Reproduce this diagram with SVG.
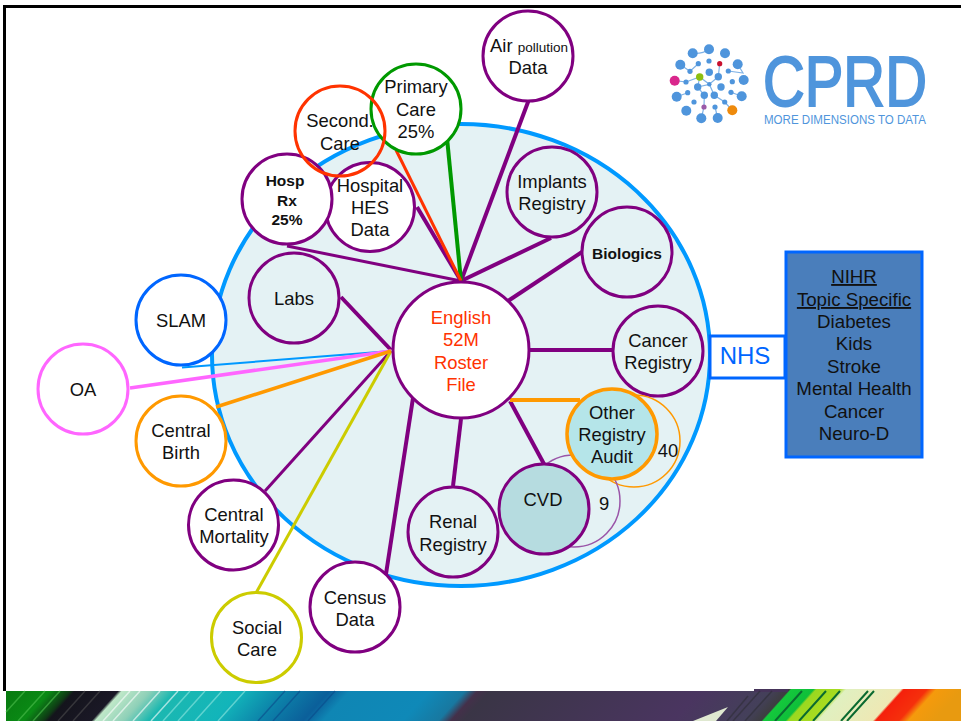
<svg xmlns="http://www.w3.org/2000/svg" width="961" height="721" viewBox="0 0 961 721">
<defs>
<style>
text{font-family:"Liberation Sans",Arial,sans-serif;font-size:18.4px;fill:#111;text-anchor:middle}
.n{fill:#fff;stroke-width:3px}
.tint{fill:#e4f2f4;stroke:#800080;stroke-width:3px}
.p{stroke:#800080}
.l{fill:none;stroke:#800080}
.d{fill:#4f95dc;stroke:none}
.e{stroke:#7fb2e6;stroke-width:1.2;fill:none}
.b{font-weight:bold;font-size:15.5px}
.r{fill:#ff3300}
.box{font-size:18.7px}
</style>
<linearGradient id="band" gradientUnits="userSpaceOnUse" x1="0" x2="961" y1="0" y2="0" gradientTransform="translate(0,691) skewX(-42)">
<stop offset=".006" stop-color="#087a10"/><stop offset=".052" stop-color="#0a8a15"/><stop offset=".073" stop-color="#0f3a15"/><stop offset=".078" stop-color="#14141c"/><stop offset=".123" stop-color="#1a1826"/><stop offset=".127" stop-color="#bfe8c8"/><stop offset=".156" stop-color="#8fd0b8"/><stop offset=".182" stop-color="#1cb8b0"/><stop offset=".25" stop-color="#12b5ba"/><stop offset=".302" stop-color="#0c7fa8"/><stop offset=".343" stop-color="#0b5f9a"/><stop offset=".364" stop-color="#0f86b4"/><stop offset=".447" stop-color="#0f89b8"/><stop offset=".484" stop-color="#1878a0"/><stop offset=".497" stop-color="#44304a"/><stop offset=".51" stop-color="#3a3546"/><stop offset=".728" stop-color="#4a3560"/><stop offset=".801" stop-color="#44405a"/><stop offset=".82" stop-color="#3d3d40"/><stop offset=".822" stop-color="#14c83c"/><stop offset=".845" stop-color="#0fbf3a"/><stop offset=".848" stop-color="#9ad820"/><stop offset=".872" stop-color="#a8dc20"/><stop offset=".879" stop-color="#e0f0c0"/><stop offset=".936" stop-color="#eee8b4"/><stop offset=".939" stop-color="#f5200c"/><stop offset=".963" stop-color="#f5300c"/><stop offset=".973" stop-color="#f59a0c"/><stop offset="1" stop-color="#e89a10"/>
</linearGradient>
</defs>
<rect width="961" height="721" fill="#fff"/>
<g id="frame" fill="#000"><rect x="3" y="5" width="958" height="3"/><rect x="3" y="5" width="3" height="686"/></g>
<g id="band-art">
<rect x="6" y="691" width="955" height="30" fill="url(#band)"/>
<rect x="754" y="689" width="207" height="3" fill="#46345a"/>
<rect x="788" y="689" width="173" height="3" fill="url(#band)"/>
<g fill="none" stroke-width="1.5">
<path stroke="#4fc04f" opacity=".6" d="M25 691L6 712M45 691L18 721M60 691L33 721"/>
<path stroke="#555" opacity=".5" d="M85 691L58 721M100 691L73 721"/>
<path stroke="#fff" opacity=".6" d="M130 691L103 721M140 691L113 721M160 691L133 721M178 691L151 721"/>
<path stroke="#7fe0da" opacity=".7" d="M190 691L163 721M205 691L178 721M222 691L195 721M245 691L218 721"/>
<path stroke="#0a4a8a" opacity=".6" d="M285 691L258 721M300 691L273 721M335 691L308 721"/>
<path stroke="#0a6a30" stroke-width="2" d="M802 691L775 721M826 691L799 721M840 691L813 721M868 691L841 721M874 691L847 721"/>
<path stroke="#2a2a30" opacity=".5" d="M772 691L745 721M760 691L733 721M748 696L727 721"/>
</g>
<path d="M693 721L728 707L716 721z" fill="#dfe8d0"/>
</g>
<ellipse id="data-pool" cx="461" cy="355" rx="249" ry="231" fill="#e4f2f4" stroke="#0099ff" stroke-width="4"/>
<g id="connectors">
<path class="l" stroke-width="4" d="M531 94L461 281"/>
<path class="l" stroke-width="4" d="M551 238L461 281"/>
<path class="l" stroke-width="4" d="M417 207L461 281"/>
<path class="l" stroke-width="3" d="M287 246L461 281"/>
<path d="M447 138L461 281" fill="none" stroke="#009900" stroke-width="4"/>
<path d="M396 150L461 281" fill="none" stroke="#ff3300" stroke-width="3"/>
<path class="l" stroke-width="4" d="M582 252L508 301"/>
<path class="l" stroke-width="4" d="M612 350H529"/>
<path class="l" stroke-width="4" d="M341 297L391 350"/>
<path class="l" stroke-width="3" d="M265 491L391 351"/>
<path d="M256 593L391 351" fill="none" stroke="#cccc00" stroke-width="3"/>
<path class="l" stroke-width="4" d="M386 574L413 398"/>
<path class="l" stroke-width="4" d="M453 486L461 419"/>
<path class="l" stroke-width="4" d="M544 464L510 401"/>
<path d="M510 400H580" fill="none" stroke="#ff9900" stroke-width="4"/>
</g>
<g id="n-air"><circle class="n p" cx="528" cy="56" r="45"/><text x="529" y="52">Air <tspan font-size="13.500">pollution</tspan></text><text x="528" y="74">Data</text></g>
<g id="n-implants"><circle class="tint" cx="552" cy="192" r="45"/><text x="552" y="188">Implants</text><text x="552" y="210">Registry</text></g>
<g id="n-biologics"><circle class="tint" cx="627" cy="252" r="45"/><text class="b" x="627" y="259">Biologics</text></g>
<g id="n-cancer"><circle class="tint" cx="658" cy="351" r="45"/><text x="658" y="347">Cancer</text><text x="658" y="369">Registry</text></g>
<g id="n-other-ring"><circle cx="634" cy="441" r="46" fill="none" stroke="#ff9900" stroke-width="1.5"/></g>
<g id="n-cvd-ring"><circle cx="574" cy="501" r="46" fill="none" stroke="#9a55a8" stroke-width="1.5"/></g>
<g id="n-other"><circle cx="612" cy="434" r="45" fill="#b5e5e9" stroke="#ff9900" stroke-width="3.5"/><text x="612" y="419">Other</text><text x="612" y="441">Registry</text><text x="612" y="463">Audit</text><text x="668" y="457">40</text></g>
<g id="n-cvd"><circle cx="544" cy="509" r="45" fill="#b6dce0" stroke="#800080" stroke-width="3"/><text x="543" y="506">CVD</text><text x="604" y="510">9</text></g>
<g id="n-renal"><circle class="tint" cx="453" cy="532" r="45"/><text x="453" y="528">Renal</text><text x="453" y="551">Registry</text></g>
<g id="n-census"><circle class="n p" cx="355" cy="607" r="45"/><text x="355" y="604">Census</text><text x="355" y="626">Data</text></g>
<g id="n-social"><circle class="n" stroke="#cccc00" cx="256.500" cy="637.500" r="45"/><text x="257" y="634">Social</text><text x="257" y="656">Care</text></g>
<g id="n-mortality"><circle class="n p" cx="233.500" cy="525" r="45"/><text x="234" y="521">Central</text><text x="234" y="543">Mortality</text></g>
<g id="n-birth"><circle class="n" stroke="#ff9900" cx="181" cy="441" r="45"/><text x="181" y="437">Central</text><text x="181" y="459">Birth</text></g>
<g id="n-oa"><circle class="n" stroke="#ff66ff" cx="83" cy="389" r="45"/><text x="83" y="396">OA</text></g>
<g id="n-slam"><circle class="n" stroke="#0066ff" cx="181" cy="320" r="45"/><text x="181" y="327">SLAM</text></g>
<g id="connectors-front">
<path d="M182 367.500L391 351" fill="none" stroke="#0099ff" stroke-width="2"/>
<path d="M130 388L391 351" fill="none" stroke="#ff66ff" stroke-width="3.500"/>
<path d="M216 407L391 351" fill="none" stroke="#ff9900" stroke-width="3.500"/>
</g>
<g id="n-labs"><circle class="tint" cx="294" cy="298" r="45"/><text x="294" y="305">Labs</text></g>
<g id="n-hes"><circle class="n p" cx="370" cy="207" r="44.500"/><text x="370" y="192">Hospital</text><text x="370" y="214">HES</text><text x="370" y="236">Data</text></g>
<g id="n-rx"><circle class="n p" cx="287" cy="199" r="45"/><text class="b" x="285" y="186">Hosp</text><text class="b" x="287" y="206">Rx</text><text class="b" x="287" y="225">25%</text></g>
<g id="n-secondary"><text x="340" y="127">Second.</text><text x="340" y="150">Care</text></g>
<g id="n-primary"><circle class="n" stroke="#009900" cx="416" cy="109" r="45"/><text x="416" y="93">Primary</text><text x="416" y="116">Care</text><text x="416" y="138">25%</text></g>
<g id="n-secondary-ring"><circle cx="340" cy="131" r="45" fill="none" stroke="#ff3300" stroke-width="3"/></g>
<g id="n-english"><circle class="n p" cx="461" cy="350" r="68"/><text class="r" x="461" y="324">English</text><text class="r" x="461" y="346">52M</text><text class="r" x="461" y="369">Roster</text><text class="r" x="461" y="391">File</text></g>
<g id="n-nhs"><rect x="710" y="336" width="75" height="42" fill="#fff" stroke="#0066ff" stroke-width="3"/><text x="745" y="364" style="fill:#0066ff;font-size:24px">NHS</text></g>
<g id="n-nihr"><rect x="786" y="252" width="136" height="205" fill="#4a7ebb" stroke="#0066ff" stroke-width="3"/>
<text class="box" x="854" y="283" text-decoration="underline">NIHR</text><text class="box" x="854" y="306" text-decoration="underline">Topic Specific</text><text class="box" x="854" y="328">Diabetes</text><text class="box" x="854" y="350">Kids</text><text class="box" x="854" y="373">Stroke</text><text class="box" x="854" y="395">Mental Health</text><text class="box" x="854" y="418">Cancer</text><text class="box" x="854" y="440">Neuro-D</text></g>
<g id="logo">
<path class="e" d="M692.700 53.300Q703 54 709 49.300M680.300 64.700L690 71.300L698.300 63.700M737.700 64.300L743 73L728.300 71M674.700 80.700L686 82L699.700 77L709.300 84.300L718.300 76.700L719.700 63.700M709.300 84.300L697.700 87L704.300 95.300L704 107L701.300 118.300M709.300 84.300L714.300 95.300L724.700 102L732.300 110.300M715 107L717.700 118M731 92.300L741.700 96.300M687.700 92.700L676.700 96.700M699.700 77L697.700 87"/>
<g class="d">
<circle cx="692.700" cy="53.300" r="5"/><circle cx="709" cy="49.300" r="5"/><circle cx="725" cy="53.300" r="5"/><circle cx="680.300" cy="64.700" r="5"/><circle cx="737.700" cy="64.300" r="5"/><circle cx="743.700" cy="80" r="5"/><circle cx="676.700" cy="96.700" r="5"/><circle cx="741.700" cy="96.300" r="5"/><circle cx="686.300" cy="110.700" r="5"/><circle cx="701.300" cy="118.300" r="5"/><circle cx="717.700" cy="118" r="5"/>
<circle cx="709.300" cy="72.300" r="3.700"/><circle cx="718.300" cy="76.700" r="3.700"/><circle cx="697.700" cy="87" r="3.700"/><circle cx="721" cy="87" r="3.700"/><circle cx="704.300" cy="95.300" r="3.700"/><circle cx="714.300" cy="95.300" r="3.700"/>
<circle cx="698.300" cy="63.700" r="2.600"/><circle cx="709" cy="61" r="2.600"/><circle cx="690" cy="71.300" r="2.600"/><circle cx="728.300" cy="71" r="2.600"/><circle cx="732.300" cy="81.700" r="2.600"/><circle cx="686" cy="82" r="2.600"/><circle cx="709.300" cy="84.300" r="2.200"/><circle cx="687.700" cy="92.700" r="2.600"/><circle cx="731" cy="92.300" r="2.600"/><circle cx="694" cy="102" r="2.600"/><circle cx="724.700" cy="102" r="2.600"/><circle cx="715" cy="107" r="2.600"/>
</g>
<circle cx="674.700" cy="80.700" r="5" fill="#d9278c"/><circle cx="699.700" cy="77" r="3.700" fill="#8cbf10"/><circle cx="719.700" cy="63.700" r="2.600" fill="#c8102e"/><circle cx="704" cy="107" r="2.600" fill="#9a5aa8"/><circle cx="732.300" cy="110.300" r="5" fill="#ee8a0c"/>
<text transform="translate(763,106) scale(.815,1)" style="fill:#4f95dc;stroke:#4f95dc;stroke-width:2px;font-size:71px;text-anchor:start">CPRD</text>
<text x="764" y="124" style="fill:#4f95dc;font-size:12.500px;text-anchor:start" textLength="162" lengthAdjust="spacingAndGlyphs">MORE DIMENSIONS TO DATA</text>
</g>
</svg>
